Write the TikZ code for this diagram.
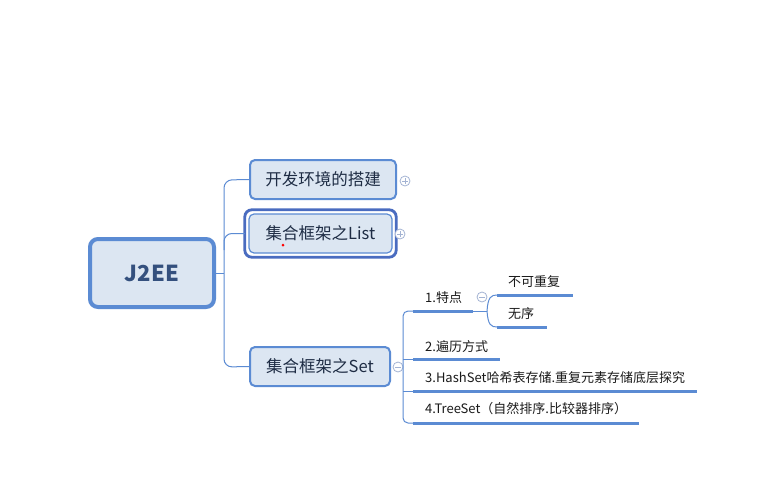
\documentclass[tikz,border=0pt]{standalone}
\usepackage{fontspec}
\setmainfont{Noto Sans CJK SC}
\definecolor{lnblue}{HTML}{5B8BD3}
\definecolor{bfill}{HTML}{DCE6F2}
\definecolor{listb}{HTML}{4A6CC0}
\definecolor{ntext}{HTML}{1E2C44}
\definecolor{ltext}{HTML}{1A1A1A}
\definecolor{jtext}{HTML}{34507E}
\definecolor{tog}{HTML}{A3B3D3}
\tikzset{
  topic/.style={draw=lnblue, fill=bfill, line width=2pt, rounded corners=5pt, inner sep=0pt,
    text=ntext, font=\fontsize{16.5}{18}\selectfont},
  conn/.style={draw=lnblue, line width=1pt, rounded corners=8pt},
  uline/.style={draw=lnblue, line width=3pt},
  toggle/.style={circle, draw=tog, fill=white, line width=0.8pt, minimum size=10pt, inner sep=0pt},
  sign/.style={draw=tog, line width=0.8pt},
  leaf/.style={anchor=base west, inner sep=0pt, text=ltext, font=\fontsize{13}{15}\selectfont}
}
\begin{document}
\begin{tikzpicture}[x=1pt,y=-1pt]
\useasboundingbox[fill=white] (0,0) rectangle (766,490);

% main nodes
\node[topic, line width=4pt, rounded corners=8pt, minimum width=124pt, minimum height=68pt,
  text=jtext, font=\fontsize{22}{24}\selectfont\bfseries] (j2ee) at (152,273) {J2EE};
\node[topic, minimum width=146pt, minimum height=39pt] (env) at (323,179.5) {开发环境的搭建};
\node[topic, line width=1.2pt, minimum width=143pt, minimum height=39pt] (list) at (320.5,233.5) {集合框架之List};
\draw[listb, line width=2.8pt, rounded corners=7pt] ([shift={(-3.6pt,-3.6pt)}]list.south west) rectangle ([shift={(3.6pt,3.6pt)}]list.north east);
\node[topic, minimum width=140pt, minimum height=39pt] (set) at (320,366.5) {集合框架之Set};
\fill[red] (283,245) circle (1.5pt);

% toggles
\node[toggle] (penv) at (405,181) {};
\draw[sign] ([xshift=-3pt]penv.center) -- ([xshift=3pt]penv.center) ([yshift=-3pt]penv.center) -- ([yshift=3pt]penv.center);
\node[toggle] (plist) at (400,234) {};
\draw[sign] ([xshift=-3pt]plist.center) -- ([xshift=3pt]plist.center) ([yshift=-3pt]plist.center) -- ([yshift=3pt]plist.center);
\node[toggle] (mset) at (398,367) {};
\draw[sign] ([xshift=-3pt]mset.center) -- ([xshift=3pt]mset.center);
\node[toggle] (mtd) at (482,297) {};
\draw[sign] ([xshift=-3pt]mtd.center) -- ([xshift=3pt]mtd.center);

% main trunk
\coordinate (tk) at (224,273);
\draw[conn] (j2ee.east) -- (tk);
\draw[conn] (env.west) -- (224,180) -- (224,367) -- (set.west);
\draw[conn] ([xshift=-3.6pt]list.west) -- (224,233.5) -- (224,250);

% Set children underlines
\coordinate (u1a) at (413,311); \coordinate (u1b) at (473,311);
\coordinate (u2a) at (413,359); \coordinate (u2b) at (500,359);
\coordinate (u3a) at (413,391); \coordinate (u3b) at (697,391);
\coordinate (u4a) at (413,423); \coordinate (u4b) at (639,423);
\coordinate (s1a) at (497,295); \coordinate (s1b) at (573,295);
\coordinate (s2a) at (497,327); \coordinate (s2b) at (547,327);
\coordinate (fk) at (487,311);

\draw[conn, rounded corners=5pt] (u1a) -- (403,311) -- (403,423) -- (u4a);
\draw[conn] (403,359) -- (u2a);
\draw[conn] (403,391) -- (u3a);
\draw[conn] (u1b) -- (fk);
\draw[conn] (fk) .. controls (488,297) and (491,295) .. (s1a);
\draw[conn] (fk) .. controls (488,325) and (491,327) .. (s2a);

\draw[uline] (u1a) -- (u1b);
\draw[uline] (u2a) -- (u2b);
\draw[uline] (u3a) -- (u3b);
\draw[uline] (u4a) -- (u4b);
\draw[uline] (s1a) -- (s1b);
\draw[uline] (s2a) -- (s2b);

% labels
\node[leaf] (t1) at (425,302) {1.特点};
\node[leaf] (t2) at (425,351) {2.遍历方式};
\node[leaf] (t3) at (425,382) {3.HashSet哈希表存储.重复元素存储底层探究};
\node[leaf] (t4) at (425,413) {4.TreeSet（自然排序.比较器排序）};
\node[leaf] (t11) at (508,286) {不可重复};
\node[leaf] (t12) at (508,318) {无序};
\end{tikzpicture}
\end{document}
